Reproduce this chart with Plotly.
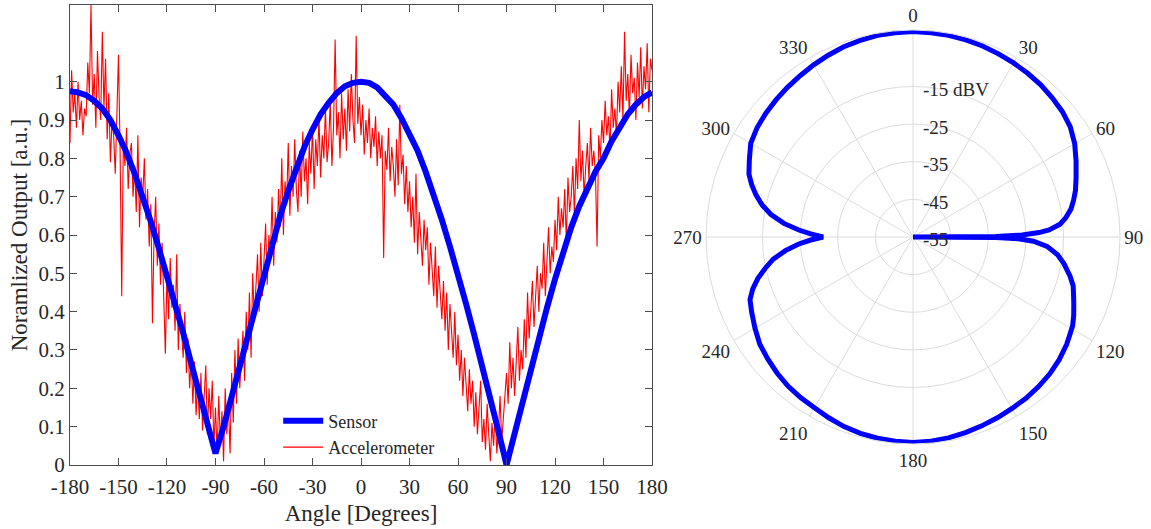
import plotly.graph_objects as go

# ---------------- Left panel: normalized output vs. rotation angle ----------------
angle_deg = list(range(-180, 181))

# Reference sensor response (every 5 degrees)
sensor_angle = list(range(-180, 181, 5))
sensor_out = [
    0.975, 0.972, 0.965, 0.950, 0.930, 0.900, 0.860, 0.815, 0.760, 0.700,
    0.635, 0.565, 0.495, 0.420, 0.345, 0.265, 0.185, 0.105, 0.030, 0.100,
    0.180, 0.260, 0.345, 0.425, 0.505, 0.580, 0.650, 0.715, 0.775, 0.830,
    0.875, 0.915, 0.945, 0.970, 0.988, 0.997, 1.000, 0.997, 0.985, 0.965,
    0.940, 0.905, 0.865, 0.820, 0.765, 0.705, 0.640, 0.570, 0.500, 0.420,
    0.340, 0.260, 0.175, 0.088, 0.000, 0.085, 0.170, 0.255, 0.335, 0.410,
    0.485, 0.555, 0.620, 0.675, 0.725, 0.765, 0.800, 0.845, 0.880, 0.915,
    0.940, 0.960, 0.972,
]

# Accelerometer reading (1 degree steps, -180 .. 180)
accel_out = [
    0.84, 1.03, 0.92, 0.97, 0.88, 1.00, 0.90, 0.95, 0.86, 0.93,
    0.91, 1.05, 0.97, 1.20, 0.94, 1.02, 0.88, 1.08, 0.96, 0.90,
    1.13, 0.93, 1.06, 0.85, 0.97, 0.79, 0.90, 0.86, 0.76, 0.93,
    1.07, 0.82, 0.44, 0.85, 0.78, 0.88, 0.72, 0.81, 0.84, 0.70,
    0.78, 0.66, 0.86, 0.62, 0.75, 0.70, 0.80, 0.64, 0.72, 0.57,
    0.68, 0.37, 0.60, 0.70, 0.52, 0.63, 0.47, 0.58, 0.44, 0.29,
    0.50, 0.38, 0.54, 0.41, 0.47, 0.35, 0.55, 0.30, 0.42, 0.36,
    0.28, 0.40, 0.24, 0.33, 0.20, 0.28, 0.16, 0.27, 0.13, 0.22,
    0.12, 0.24, 0.09, 0.18, 0.26, 0.08, 0.20, 0.12, 0.22, 0.05,
    0.15, 0.03, 0.18, 0.06, 0.14, 0.01, 0.20, 0.08, 0.16, 0.03,
    0.24, 0.11, 0.30, 0.16, 0.33, 0.20, 0.28, 0.35, 0.22, 0.40,
    0.30, 0.45, 0.28, 0.50, 0.38, 0.46, 0.55, 0.40, 0.58, 0.44,
    0.52, 0.63, 0.47, 0.60, 0.55, 0.70, 0.52, 0.66, 0.58, 0.72,
    0.62, 0.80, 0.60, 0.74, 0.68, 0.84, 0.65, 0.78, 0.70, 0.85,
    0.72, 0.66, 0.82, 0.70, 0.87, 0.74, 0.80, 0.68, 0.84, 0.76,
    0.88, 0.72, 0.85, 0.78, 0.91, 0.75, 0.86, 0.80, 0.93, 0.79,
    0.84, 0.95, 0.78, 0.88, 1.11, 0.86, 0.92, 0.80, 0.97, 0.85,
    0.93, 0.82, 0.98, 0.87, 1.02, 0.90, 0.84, 1.12, 0.89, 0.96,
    0.86, 0.94, 0.81, 0.90, 0.84, 0.93, 0.80, 0.88, 0.83, 0.91,
    0.78, 0.87, 0.80, 0.86, 0.54, 0.82, 0.77, 0.88, 0.74, 0.83,
    0.78, 0.70, 0.85, 0.73, 0.94, 0.76, 0.81, 0.68, 0.78, 0.66,
    0.74, 0.62, 0.70, 0.58, 0.76, 0.55, 0.66, 0.60, 0.52, 0.64,
    0.56, 0.62, 0.47, 0.58, 0.50, 0.44, 0.57, 0.41, 0.52, 0.46,
    0.38, 0.48, 0.35, 0.45, 0.30, 0.42, 0.33, 0.28, 0.40, 0.26,
    0.34, 0.22, 0.30, 0.18, 0.28, 0.20, 0.14, 0.25, 0.16, 0.22,
    0.10, 0.19, 0.08, 0.15, 0.22, 0.06, 0.12, 0.04, 0.16, 0.08,
    0.01, 0.11, 0.05, 0.14, 0.03, 0.09, 0.18, 0.06, 0.12, 0.20,
    0.24, 0.16, 0.32, 0.20, 0.28, 0.18, 0.26, 0.36, 0.22, 0.30,
    0.25, 0.38, 0.28, 0.45, 0.33, 0.40, 0.48, 0.36, 0.44, 0.52,
    0.40, 0.50, 0.46, 0.58, 0.44, 0.55, 0.62, 0.50, 0.57, 0.53,
    0.64, 0.56, 0.70, 0.60, 0.67, 0.62, 0.72, 0.58, 0.75, 0.66,
    0.70, 0.78, 0.65, 0.80, 0.72, 0.90, 0.74, 0.82, 0.70, 0.78,
    0.84, 0.74, 0.88, 0.78, 0.82, 0.76, 0.57, 0.86, 0.80, 0.90,
    0.84, 0.95, 0.86, 0.91, 0.82, 0.98, 0.88, 0.93, 0.86, 1.00,
    0.92, 1.04, 0.90, 1.13, 0.95, 1.02, 0.91, 1.07, 0.97, 1.01,
    0.90, 1.05, 0.96, 1.09, 0.93, 1.04, 0.98, 1.10, 0.92, 1.06,
    1.03,
]

x_ticks = list(range(-180, 181, 30))
y_ticks = [round(0.1 * i, 1) for i in range(11)]
y_ticklabels = ["0"] + [f"{v:g}" for v in y_ticks[1:]]

# ---------------- Right panel: polar response in dBV ----------------
polar_theta = [
    0, 5, 10, 15, 20, 25, 30, 35, 40, 45, 50, 55, 60, 65, 70, 74, 77, 80, 83,
    85, 87, 88, 89, 89.6, 90, 90.4, 91, 92, 94, 97, 100, 104, 107, 110, 113,
    116, 119, 122, 125, 130, 135, 140, 145, 150, 155, 160, 165, 170, 175, 180,
    185, 190, 195, 200, 205, 210, 215, 220, 225, 230, 235, 240, 245, 249, 252,
    255, 258, 261, 264, 266.5, 268.3, 270, 271.7, 273.5, 276, 279, 282, 285,
    288, 291, 295, 300, 305, 310, 315, 320, 325, 330, 335, 340, 345, 350, 355,
    360,
]
polar_dbv = [
    -0.4, -0.5, -0.6, -0.8, -1.0, -1.3, -1.6, -1.9, -2.2, -2.7, -3.2, -4.0,
    -5.4, -7.2, -8.9, -10.1, -11.2, -12.4, -14.2, -15.8, -18.8, -21.5, -26.0,
    -33.0, -55.0, -33.0, -27.0, -23.0, -19.3, -16.3, -14.3, -12.0, -10.5,
    -9.6, -8.6, -7.5, -6.5, -5.9, -5.2, -4.3, -3.6, -3.1, -2.7, -2.4, -2.0,
    -1.6, -1.2, -0.8, -0.5, -0.4, -0.5, -0.7, -1.0, -1.4, -2.0, -2.6, -2.9,
    -3.3, -3.9, -4.6, -5.3, -6.5, -7.7, -8.6, -10.2, -12.3, -14.8, -17.4,
    -21.0, -24.6, -27.8, -31.1, -27.8, -24.6, -20.5, -16.8, -14.0, -11.8,
    -9.9, -8.3, -7.0, -5.2, -4.4, -3.9, -3.5, -3.1, -2.7, -2.2, -1.7, -1.2,
    -0.9, -0.6, -0.5, -0.4,
]
r_ticks = [-55, -45, -35, -25, -15]
r_ticklabels = ["-55", "-45", "-35", "-25", "-15 dBV"]
theta_ticks = list(range(0, 360, 30))

FONT = "Liberation Serif"
AXIS_COLOR = "#4d4d4d"
TEXT_COLOR = "#262626"
GRID = "#dcdcdc"

fig = go.Figure()

fig.add_trace(go.Scatter(
    x=angle_deg, y=accel_out, mode="lines", name="Accelerometer",
    line=dict(color="#ff0000", width=1.1),
    xaxis="x", yaxis="y",
))
fig.add_trace(go.Scatter(
    x=sensor_angle, y=sensor_out, mode="lines", name="Sensor",
    line=dict(color="#0000ff", width=6),
    xaxis="x", yaxis="y",
))

fig.add_trace(go.Scatterpolar(
    theta=polar_theta, r=polar_dbv, mode="lines", showlegend=False,
    line=dict(color="#0000ff", width=5),
    subplot="polar",
))

fig.update_layout(
    width=1151, height=529,
    margin=dict(l=0, r=0, t=0, b=0, autoexpand=False),
    paper_bgcolor="white", plot_bgcolor="white",
    font=dict(family=FONT, color=TEXT_COLOR, size=20),
    showlegend=True,
    legend=dict(
        x=0.2417, y=0.239, xanchor="left", yanchor="top",
        bgcolor="rgba(255,255,255,0)", borderwidth=0,
        font=dict(family=FONT, size=18, color=TEXT_COLOR),
        traceorder="reversed", itemwidth=40,
        tracegroupgap=0,
    ),
    xaxis=dict(
        domain=[0.0608, 0.5665], anchor="y", automargin=False,
        range=[-180, 180], tickmode="array", tickvals=x_ticks,
        ticktext=[str(v) for v in x_ticks],
        ticks="inside", ticklen=7, tickcolor=AXIS_COLOR, tickwidth=1,
        ticklabelstandoff=3,
        showline=True, linecolor=AXIS_COLOR, linewidth=1.2, mirror="ticks",
        showgrid=False, zeroline=False,
        tickfont=dict(family=FONT, size=21, color=TEXT_COLOR),
        title=dict(text="Angle [Degrees]", standoff=6,
                   font=dict(family=FONT, size=23, color=TEXT_COLOR)),
    ),
    yaxis=dict(
        domain=[0.121, 0.9905], anchor="x", automargin=False,
        range=[0, 1.2], tickmode="array", tickvals=y_ticks,
        ticktext=y_ticklabels,
        ticks="inside", ticklen=7, tickcolor=AXIS_COLOR, tickwidth=1,
        showline=True, linecolor=AXIS_COLOR, linewidth=1.2, mirror="ticks",
        showgrid=False, zeroline=False,
        tickfont=dict(family=FONT, size=21, color=TEXT_COLOR),
        title=dict(text="Noramlized Output [a.u.]", standoff=4,
                   font=dict(family=FONT, size=23, color=TEXT_COLOR)),
    ),
    polar=dict(
        domain=dict(x=[0.6134, 0.9731], y=[0.1607, 0.9433]),
        bgcolor="white",
        angularaxis=dict(
            direction="clockwise", rotation=90,
            tickmode="array", tickvals=theta_ticks,
            ticktext=[str(v) for v in theta_ticks],
            showline=True, linecolor=GRID, linewidth=1,
            showgrid=True, gridcolor=GRID, gridwidth=1,
            ticks="", tickfont=dict(family=FONT, size=19, color=TEXT_COLOR),
        ),
        radialaxis=dict(
            range=[-55, 0], tickmode="array", tickvals=r_ticks,
            ticktext=r_ticklabels, angle=90, side="clockwise",
            showline=False, ticks="", showgrid=True,
            gridcolor=GRID, gridwidth=1,
            tickfont=dict(family=FONT, size=19, color=TEXT_COLOR),
        ),
    ),
)

fig.write_html("out.html")
